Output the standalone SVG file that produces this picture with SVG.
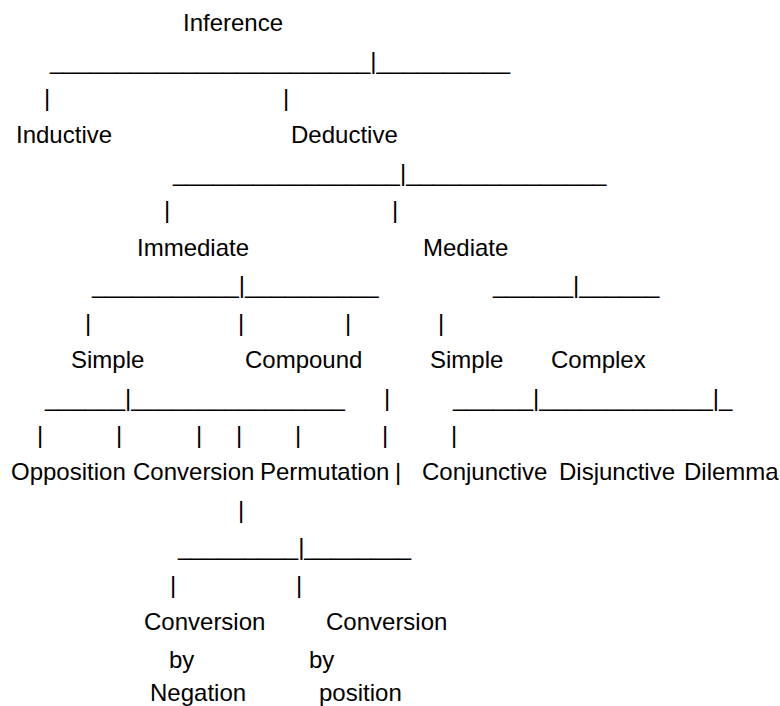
<svg xmlns="http://www.w3.org/2000/svg" width="780" height="706" viewBox="0 0 780 706">
<style>
text { font-family: "Liberation Sans", Arial, sans-serif; font-size: 24px; fill: #000; white-space: pre; }
</style>
<rect width="780" height="706" fill="#fff"/>
<g id="connectors">
  <text x="50" y="68.5">________________________|__________</text>
  <text x="44" y="105.9">|</text>
  <text x="283" y="105.9">|</text>
  <text x="173" y="180.8">_________________|_______________</text>
  <text x="164" y="218.3">|</text>
  <text x="392" y="218.3">|</text>
  <text x="92" y="293.2">___________|__________</text>
  <text x="493" y="293.2">______|______</text>
  <text x="85" y="330.6">|</text>
  <text x="238" y="330.6">|</text>
  <text x="345" y="330.6">|</text>
  <text x="438" y="330.6">|</text>
  <text x="45" y="405.5">______|________________</text>
  <text x="384" y="405.5">|</text>
  <text x="453" y="405.5">______|_____________|_</text>
  <text x="37" y="443">|</text>
  <text x="116" y="443">|</text>
  <text x="196" y="443">|</text>
  <text x="236" y="443">|</text>
  <text x="295" y="443">|</text>
  <text x="382" y="443">|</text>
  <text x="451" y="443">|</text>
  <text x="395" y="480.4">|</text>
  <text x="238" y="517.9">|</text>
  <text x="178" y="555.3">_________|________</text>
  <text x="170" y="592.8">|</text>
  <text x="296" y="592.8">|</text>
</g>
<g id="inference"><text x="183" y="31">Inference</text></g>
<g id="inductive"><text x="16" y="143.4">Inductive</text></g>
<g id="deductive"><text x="291" y="143.4">Deductive</text></g>
<g id="immediate"><text x="137" y="255.7">Immediate</text></g>
<g id="mediate"><text x="423" y="255.7">Mediate</text></g>
<g id="simple-immediate"><text x="71" y="368.1">Simple</text></g>
<g id="compound"><text x="245" y="368.1">Compound</text></g>
<g id="simple-mediate"><text x="430" y="368.1">Simple</text></g>
<g id="complex"><text x="551" y="368.1">Complex</text></g>
<g id="opposition"><text x="11" y="480.4">Opposition</text></g>
<g id="conversion"><text x="133" y="480.4">Conversion</text></g>
<g id="permutation"><text x="260" y="480.4">Permutation</text></g>
<g id="conjunctive"><text x="422" y="480.4">Conjunctive</text></g>
<g id="disjunctive"><text x="559" y="480.4">Disjunctive</text></g>
<g id="dilemma"><text x="684" y="480.4">Dilemma</text></g>
<g id="conversion-by-negation">
  <text x="144" y="630.2">Conversion</text>
  <text x="169" y="667.7">by</text>
  <text x="150" y="700.5">Negation</text>
</g>
<g id="conversion-by-position">
  <text x="326" y="630.2">Conversion</text>
  <text x="309" y="667.7">by</text>
  <text x="319" y="700.5">position</text>
</g>
</svg>
